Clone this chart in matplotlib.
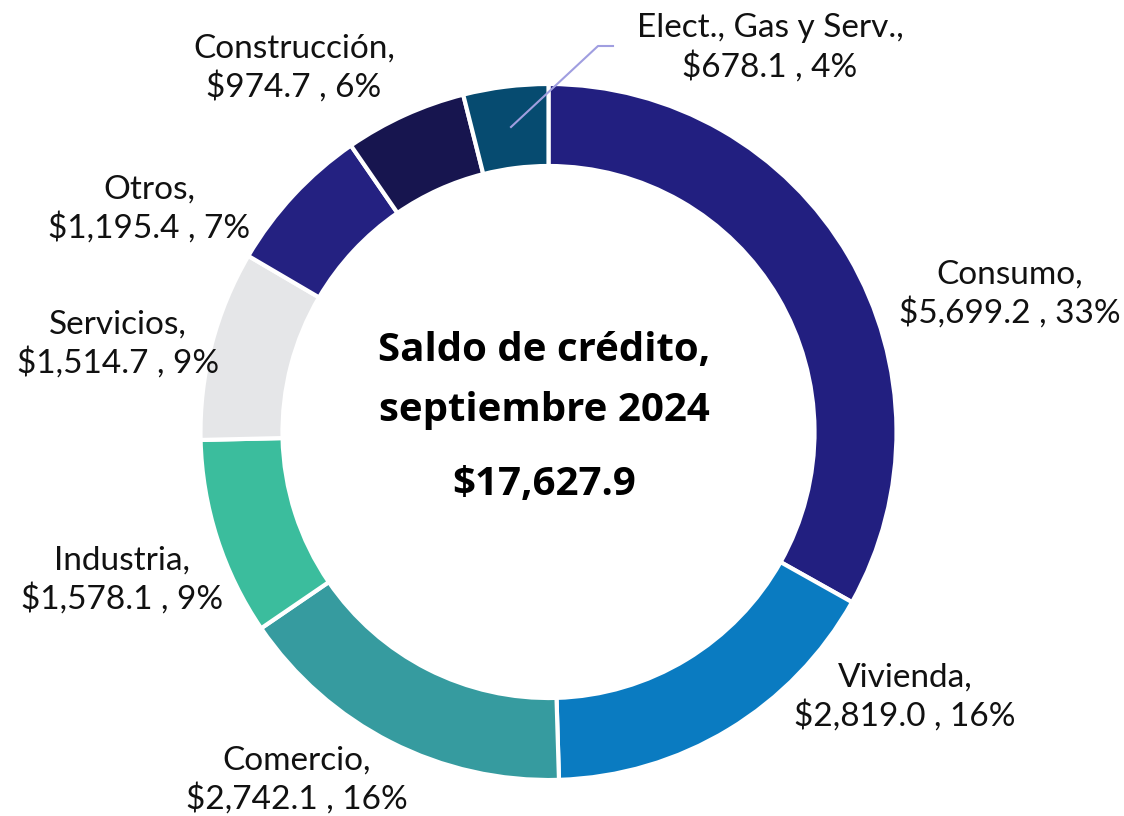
import matplotlib.pyplot as plt

W, H = 1124, 816

categorias = ["Consumo", "Vivienda", "Comercio", "Industria", "Servicios",
              "Otros", "Construcción", "Elect., Gas y Serv."]
saldos = [5699.2, 2819.0, 2742.1, 1578.1, 1514.7, 1195.4, 974.7, 678.1]
porcentajes = [33, 16, 16, 9, 9, 7, 6, 4]
total = "$17,627.9"

colores = ["#221F80", "#0A7BC1", "#369B9F", "#3BBD9D", "#E5E6E8",
           "#242181", "#17154F", "#064B70"]

# label centers in pixel coords (x, y from top)
pos_etiquetas = [(1010, 294), (905, 697), (297, 780), (122, 580),
                 (118, 344), (149, 209), (294, 68), (770, 48)]

fig = plt.figure(figsize=(W / 100, H / 100), dpi=100)
ax = fig.add_axes([0, 0, 1, 1])

cx, cy, R = 548.5, H - 432, 348
ax.pie(saldos, colors=colores, startangle=90, counterclock=False,
       center=(cx, cy), radius=R,
       wedgeprops=dict(width=82, edgecolor="white", linewidth=3))
ax.set_xlim(0, W)
ax.set_ylim(0, H)
ax.set_aspect("equal")
ax.axis("off")

fuente = "Lato"
for cat, val, pct, (x, y) in zip(categorias, saldos, porcentajes, pos_etiquetas):
    ax.text(x, H - y, f"{cat},\n${val:,.1f} , {pct}%", ha="center", va="center",
            fontsize=24, family=fuente, color="#111111", linespacing=1.3)

# leader line for the small slice
ax.plot([511, 598, 613], [H - 127, H - 46, H - 46], color="#A09EE0", lw=1.5)

for texto, y in [("Saldo de crédito,", 350), ("septiembre 2024", 410), (total, 485)]:
    ax.text(544, H - y, texto, ha="center", va="center",
            fontsize=29, fontweight="bold", family="Open Sans")

fig.savefig("out.png", dpi=100)
